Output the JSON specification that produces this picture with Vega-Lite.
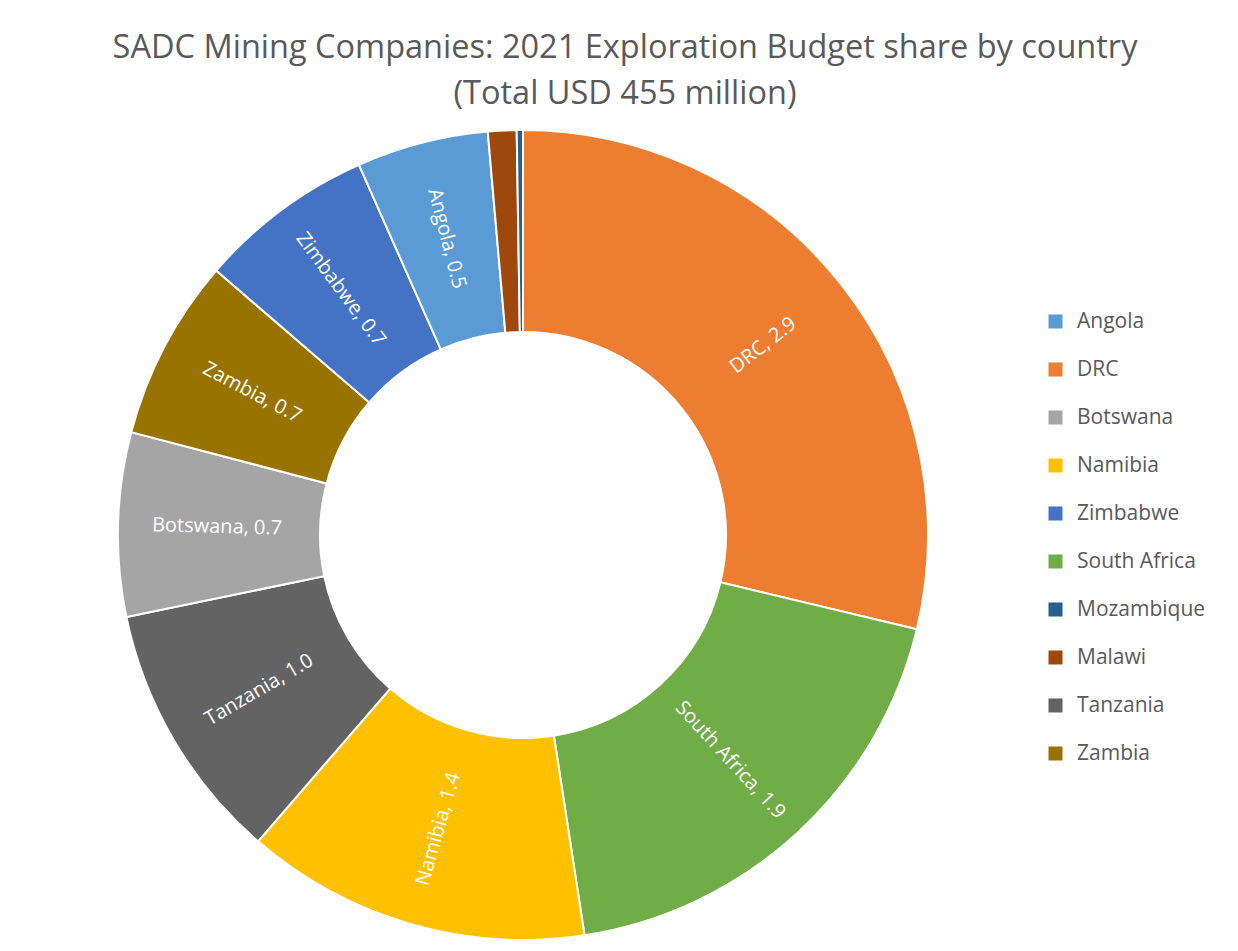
{
  "$schema": "https://vega.github.io/schema/vega-lite/v6.json",
  "width": 810,
  "height": 810,
  "autosize": {"type": "none"},
  "padding": {"left": 118, "top": 130, "right": 310, "bottom": 11},
  "background": "white",
  "config": {"view": {"stroke": null}, "font": "Open Sans"},
  "title": {
    "text": ["SADC Mining Companies: 2021 Exploration Budget share by country", "(Total USD 455 million)"],
    "fontSize": 32.5,
    "fontWeight": "normal",
    "color": "#595959",
    "font": "Open Sans",
    "anchor": "middle",
    "frame": "group",
    "dx": 102,
    "lineHeight": 46,
    "offset": 16
  },
  "data": {
    "values": [
      {"country": "DRC", "value": 2.9, "rank": 1, "label": "DRC, 2.9"},
      {"country": "South Africa", "value": 1.9, "rank": 2, "label": "South Africa, 1.9"},
      {"country": "Namibia", "value": 1.39, "rank": 3, "label": "Namibia, 1.4"},
      {"country": "Tanzania", "value": 1.05, "rank": 4, "label": "Tanzania, 1.0"},
      {"country": "Botswana", "value": 0.74, "rank": 5, "label": "Botswana, 0.7"},
      {"country": "Zambia", "value": 0.73, "rank": 6, "label": "Zambia, 0.7"},
      {"country": "Zimbabwe", "value": 0.71, "rank": 7, "label": "Zimbabwe, 0.7"},
      {"country": "Angola", "value": 0.53, "rank": 8, "label": "Angola, 0.5"},
      {"country": "Malawi", "value": 0.115, "rank": 9, "label": ""},
      {"country": "Mozambique", "value": 0.025, "rank": 10, "label": ""}
    ]
  },
  "transform": [
    {"joinaggregate": [{"op": "sum", "field": "value", "as": "total"}]},
    {"window": [{"op": "sum", "field": "value", "as": "cum"}], "sort": [{"field": "rank", "order": "ascending"}], "frame": [null, 0]},
    {"calculate": "(datum.cum - datum.value / 2) / datum.total * 360", "as": "mid"},
    {"calculate": "datum.mid < 180 ? datum.mid - 90 : datum.mid - 270", "as": "rot"}
  ],
  "encoding": {
    "theta": {"field": "value", "type": "quantitative", "stack": true},
    "order": {"field": "rank", "type": "quantitative", "sort": "ascending"}
  },
  "layer": [
    {
      "mark": {"type": "arc", "outerRadius": 405, "innerRadius": 203, "stroke": "white", "strokeWidth": 2},
      "encoding": {
        "color": {
          "field": "country",
          "type": "nominal",
          "scale": {
            "domain": ["Angola", "DRC", "Botswana", "Namibia", "Zimbabwe", "South Africa", "Mozambique", "Malawi", "Tanzania", "Zambia"],
            "range": ["#5B9BD5", "#ED7D31", "#A5A5A5", "#FFC000", "#4472C4", "#70AD47", "#255E91", "#9E480E", "#636363", "#997300"]
          },
          "legend": {
            "title": null,
            "orient": "none",
            "legendX": 927,
            "legendY": 181,
            "symbolType": "square",
            "symbolSize": 196,
            "symbolStrokeWidth": 0,
            "labelFontSize": 21,
            "labelColor": "#595959",
            "labelFont": "Open Sans",
            "labelOffset": 11,
            "rowPadding": 26
          }
        }
      }
    },
    {
      "transform": [{"filter": "datum.value > 0.3"}],
      "mark": {"type": "text", "radius": 306, "fontSize": 20, "fill": "white", "font": "Open Sans", "align": "center", "baseline": "middle"},
      "encoding": {
        "text": {"field": "label", "type": "nominal"},
        "angle": {"field": "rot", "type": "quantitative", "scale": null}
      }
    }
  ]
}
